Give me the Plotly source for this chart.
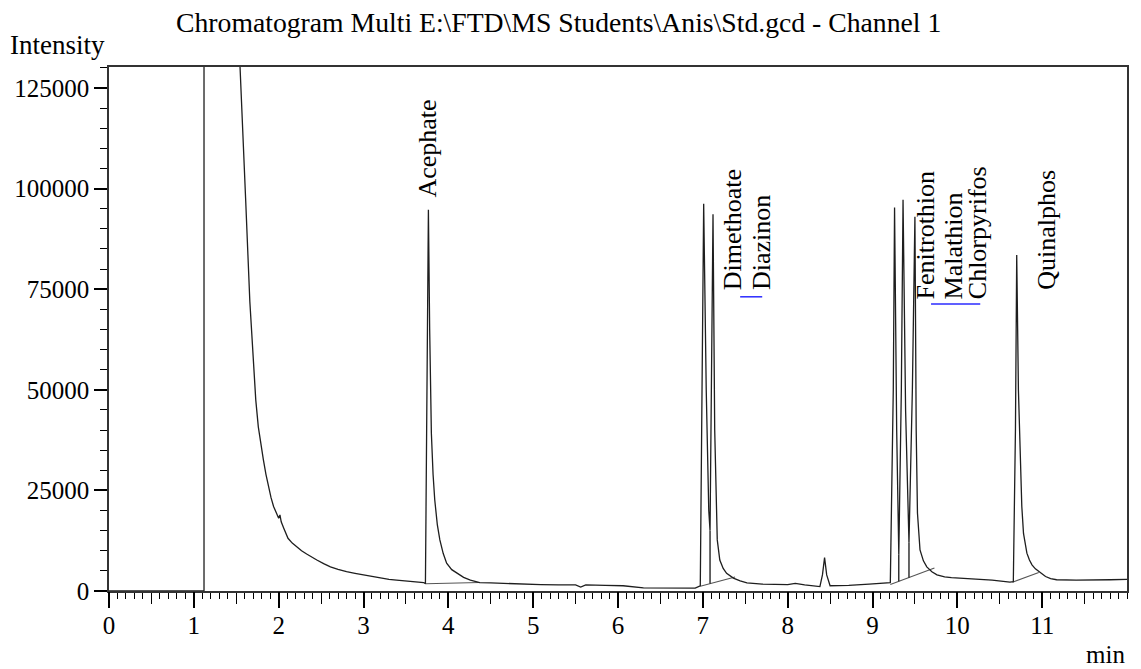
import plotly.graph_objects as go

# ---------------- data ----------------
# detector signal: retention time (min) and intensity
signal_time = [
    0.00, 1.12, 1.12, 1.50, 1.545, 1.58, 1.61, 1.66, 1.70, 1.73, 1.76, 1.79,
    1.82, 1.85, 1.88, 1.91, 1.94, 1.97, 2.00, 2.015, 2.03, 2.06, 2.085, 2.11,
    2.16, 2.21, 2.27, 2.33, 2.39, 2.45, 2.53, 2.61, 2.70, 2.80, 2.90, 3.00,
    3.10, 3.20, 3.30, 3.39, 3.49, 3.59, 3.71,
    3.73, 3.75, 3.765, 3.78, 3.80, 3.82, 3.84, 3.87, 3.90, 3.94, 3.98, 4.04,
    4.10, 4.18, 4.26, 4.37, 4.50,
    4.61, 4.85, 5.09, 5.30, 5.50, 5.56, 5.62, 5.85, 6.06, 6.30, 6.64, 6.91,
    6.97, 6.99, 7.01, 7.04, 7.07, 7.085, 7.10, 7.12, 7.14, 7.17, 7.20, 7.24,
    7.28, 7.32, 7.36, 7.44, 7.52, 7.70, 8.00, 8.09, 8.20,
    8.38, 8.41, 8.435, 8.46, 8.50,
    8.72, 8.96, 9.21, 9.245, 9.26, 9.285, 9.31, 9.34, 9.36, 9.39, 9.43, 9.47,
    9.50, 9.515, 9.53, 9.56, 9.60, 9.64, 9.70, 9.76, 9.85, 9.93, 10.17, 10.41,
    10.62, 10.66, 10.685, 10.70, 10.72, 10.745, 10.76, 10.78, 10.82, 10.85,
    10.88, 10.92, 10.96, 11.00, 11.04, 11.10, 11.17, 11.40, 11.57, 11.80, 12.00,
]
signal_intensity = [
    0, 0, 300000, 200000, 130000, 110000, 97700, 72000, 56000, 47500, 40800, 36000,
    32600, 29000, 25900, 23200, 21000, 19400, 18100, 18900, 17200, 15600, 14200, 13100,
    11900, 11000, 10000, 9200, 8400, 7700, 6800, 6000, 5400, 4800, 4400, 4000,
    3550, 3150, 2900, 2700, 2500, 2300, 2100,
    1800, 50000, 94700, 65000, 39200, 29000, 22600, 16500, 12700, 9300, 6900, 5300,
    4400, 3400, 2700, 2100, 2000,
    1900, 1700, 1600, 1500, 1500, 1000, 1500, 1400, 1300, 800, 700, 700,
    1300, 50000, 96200, 50000, 20000, 15000, 50000, 93600, 40000, 12700, 7700, 5600,
    4400, 3700, 3200, 2500, 2000, 1700, 1600, 1900, 1500,
    1100, 4000, 8300, 4000, 1300,
    1400, 1700, 2100, 50000, 95300, 40000, 9000, 50000, 97200, 45000, 12000, 50000,
    93000, 40000, 19400, 10200, 7500, 6000, 4800, 4000, 3500, 3300, 3000, 2700,
    2200, 2300, 40000, 83500, 50000, 30000, 21000, 14300, 9400, 7700,
    6500, 5500, 4800, 4100, 3600, 3100, 2800, 2700, 2700, 2800, 2900,
]

# integration baselines (start time, start intensity, end time, end intensity)
baseline_t0 = [3.73, 6.97, 9.21, 10.65]
baseline_i0 = [1800, 1200, 1600, 2200]
baseline_t1 = [4.37, 7.38, 9.73, 10.96]
baseline_i1 = [2100, 3500, 5700, 4600]

# peak separation drop lines (time, bottom, top)
drop_t = [7.085, 9.31, 9.43]
drop_lo = [1850, 2400, 3330]
drop_hi = [15000, 9000, 12000]

# peak names and label anchor (time, intensity)
peak_names = ["Acephate", "Dimethoate", "Diazinon", "Fenitrothion",
              "Malathion", "Chlorpyrifos", "Quinalphos"]
label_time = [3.76, 7.35, 7.69, 9.63, 9.96, 10.24, 11.05]
label_intensity = [97500, 74500, 74500, 72300, 72300, 72300, 74700]

# blue label connectors (t0, t1, intensity)
link_t0 = [7.44, 9.69]
link_t1 = [7.70, 10.27]
link_i = [73100, 71300]

x_major = list(range(0, 12))
x_half = [k + 0.5 for k in range(0, 12)]
y_major = [0, 25000, 50000, 75000, 100000, 125000]

FONT = "Liberation Serif, Times New Roman, serif"
FS = 25

fig = go.Figure()

# baselines
bx, by = [], []
for a, b, c, d in zip(baseline_t0, baseline_i0, baseline_t1, baseline_i1):
    bx += [a, c, None]
    by += [b, d, None]
fig.add_trace(go.Scatter(x=bx, y=by, mode="lines",
                         line=dict(color="#555555", width=1.1),
                         hoverinfo="skip", showlegend=False))

# drop lines
dx, dy = [], []
for t, lo, hi in zip(drop_t, drop_lo, drop_hi):
    dx += [t, t, None]
    dy += [lo, hi, None]
fig.add_trace(go.Scatter(x=dx, y=dy, mode="lines",
                         line=dict(color="#000000", width=1.2),
                         hoverinfo="skip", showlegend=False))

# signal
fig.add_trace(go.Scatter(x=signal_time, y=signal_intensity, mode="lines",
                         line=dict(color="#1e1e1e", width=1.3),
                         showlegend=False, name="Channel 1"))

# blue connectors
lx, ly = [], []
for a, b, c in zip(link_t0, link_t1, link_i):
    lx += [a, b, None]
    ly += [c, c, None]
fig.add_trace(go.Scatter(x=lx, y=ly, mode="lines",
                         line=dict(color="#2b2bff", width=1.5),
                         hoverinfo="skip", showlegend=False))

# invisible trace to activate the long whole-minute tick axis
fig.add_trace(go.Scatter(x=[0, 12], y=[None, None], xaxis="x2", yaxis="y",
                         mode="lines", showlegend=False, hoverinfo="skip"))

annotations = []
for name, t, inten in zip(peak_names, label_time, label_intensity):
    annotations.append(dict(x=t, y=inten, xref="x", yref="y", text=name,
                            textangle=-90, showarrow=False, xanchor="center",
                            yanchor="bottom", borderpad=0,
                            font=dict(family=FONT, size=26, color="black")))

annotations.append(dict(x=0.442, y=1.0, xref="paper", yref="paper",
                        yshift=45, text="Chromatogram Multi E:\\FTD\\MS Students\\Anis\\Std.gcd - Channel 1",
                        showarrow=False, xanchor="center", yanchor="middle",
                        font=dict(family=FONT, size=27.7, color="black")))
annotations.append(dict(x=0, y=1.0, xref="paper", yref="paper",
                        xshift=-101, yshift=22, text="Intensity",
                        showarrow=False, xanchor="left", yanchor="middle",
                        font=dict(family=FONT, size=27, color="black")))
annotations.append(dict(x=1.0, y=0, xref="paper", yref="paper",
                        yshift=-63, text="min",
                        showarrow=False, xanchor="right", yanchor="middle",
                        font=dict(family=FONT, size=25, color="black")))

# tick positions on the main x axis: whole and half minutes (labels only on whole)
main_tickvals = sorted(x_major + x_half)
main_ticktext = [str(int(v)) if float(v).is_integer() else "" for v in main_tickvals]

# the page body adds an 8 px offset, so the figure is sized to fit inside it
fig.update_layout(
    width=1133, height=661,
    margin=dict(l=101, r=14, t=59, b=78, autoexpand=False),
    paper_bgcolor="white", plot_bgcolor="white",
    font=dict(family=FONT, size=FS, color="black"),
    annotations=annotations,
    xaxis=dict(range=[0, 12.0], tickmode="array", tickvals=main_tickvals,
               ticktext=main_ticktext, automargin=False,
               ticks="outside", ticklen=11, tickwidth=1.4, tickcolor="black",
               showline=True, linecolor="#333333", linewidth=1.5, mirror=True,
               showgrid=False, zeroline=False,
               minor=dict(dtick=0.1, tick0=0, ticks="outside", ticklen=6,
                          tickwidth=1.2, tickcolor="black", showgrid=False),
               tickfont=dict(family=FONT, size=FS, color="black")),
    xaxis2=dict(range=[0, 12.0], overlaying="x", anchor="y", side="bottom",
                tickmode="array", tickvals=x_major, ticks="outside", ticklen=16,
                tickwidth=1.5, tickcolor="black", showticklabels=False,
                automargin=False,
                showline=False, showgrid=False, zeroline=False),
    yaxis=dict(range=[0, 130200], tickmode="array", tickvals=y_major,
               ticktext=[str(v) for v in y_major], automargin=False,
               ticks="outside", ticklen=13, tickwidth=1.5, tickcolor="black",
               showline=True, linecolor="#333333", linewidth=1.5, mirror=True,
               showgrid=False, zeroline=False,
               minor=dict(dtick=5000, tick0=0, ticks="outside", ticklen=7,
                          tickwidth=1.2, tickcolor="black", showgrid=False),
               tickfont=dict(family=FONT, size=FS, color="black")),
)

fig.write_html("out.html")
